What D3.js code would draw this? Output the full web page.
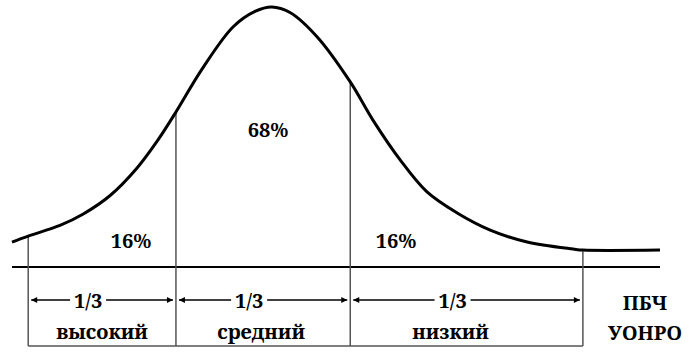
<!DOCTYPE html>
<html>
<head>
<meta charset="utf-8">
<script src="https://cdn.jsdelivr.net/npm/d3@7"></script>
<style>
  body { margin: 0; background: #fff; }
  svg { display: block; }
</style>
</head>
<body>
<svg id="chart"></svg>
<script>
const WIDTH = 695;
const HEIGHT = 352;
const FONT = "'Noto Serif', 'DejaVu Serif', serif";

// curve: x in 0..100, height in 0..100 (peak)
const curveX = [0, 2.5, 7.4, 11.0, 15.1, 19.3, 22.4, 25.2, 29.3, 34.1, 37.5, 40.1, 42.9, 47.1, 52.2, 55.7, 59.9, 64.0, 68.7, 73.8, 79.5, 86.6, 88.1, 100];
const curveY = [9.6, 11.9, 16.0, 20.4, 27.4, 38.1, 48.4, 59.2, 76.0, 92.3, 98.3, 100, 97.9, 88.5, 71.2, 56.5, 41.2, 29.0, 20.8, 14.2, 9.6, 6.9, 6.5, 6.5];

const boundaries = [2.5, 25.3, 52.2, 88.1];
const shares = ["16%", "68%", "16%"];
const thirds = ["1/3", "1/3", "1/3"];
const levels = ["высокий", "средний", "низкий"];
const sideLabels = ["ПБЧ", "УОНРО"];

const x = d3.scaleLinear().domain([0, 100]).range([12, 660]);
const y = d3.scaleLinear().domain([0, 100]).range([267, 7]);

const BOTTOM = 346;
const ARROW_Y = 300;

const svg = d3.select("#chart").attr("width", WIDTH).attr("height", HEIGHT);

svg
  .append("defs")
  .append("marker")
  .attr("id", "head")
  .attr("viewBox", "0 0 10 10")
  .attr("refX", 10)
  .attr("refY", 5)
  .attr("markerWidth", 9)
  .attr("markerHeight", 6)
  .attr("markerUnits", "userSpaceOnUse")
  .attr("orient", "auto-start-reverse")
  .append("path")
  .attr("d", "M0,0 L10,5 L0,10 z")
  .attr("fill", "#000");

const points = curveX.map((v, i) => [v, curveY[i]]);

// height of the curve at a given x (linear between read points)
const heightAt = v => {
  for (let i = 1; i < points.length; i++) {
    if (v <= points[i][0]) {
      const [x0, y0] = points[i - 1];
      const [x1, y1] = points[i];
      return y0 + ((v - x0) / (x1 - x0)) * (y1 - y0);
    }
  }
  return points[points.length - 1][1];
};

// baseline
svg
  .append("line")
  .attr("x1", x(0))
  .attr("x2", x(100))
  .attr("y1", y(0))
  .attr("y2", y(0))
  .attr("stroke", "#000")
  .attr("stroke-width", 2);

// bottom line
svg
  .append("line")
  .attr("x1", x(boundaries[0]))
  .attr("x2", x(boundaries[boundaries.length - 1]))
  .attr("y1", BOTTOM)
  .attr("y2", BOTTOM)
  .attr("stroke", "#555")
  .attr("stroke-width", 1.5);

// verticals
svg
  .selectAll(".divider")
  .data(boundaries)
  .join("line")
  .attr("class", "divider")
  .attr("x1", d => x(d))
  .attr("x2", d => x(d))
  .attr("y1", d => y(heightAt(d)))
  .attr("y2", BOTTOM)
  .attr("stroke", "#555")
  .attr("stroke-width", 1.5);

// curve
const line = d3
  .line()
  .x(d => x(d[0]))
  .y(d => y(d[1]))
  .curve(d3.curveCatmullRom.alpha(0.5));

svg
  .append("path")
  .datum(points)
  .attr("d", line)
  .attr("fill", "none")
  .attr("stroke", "#000")
  .attr("stroke-width", 3)
  .attr("stroke-linejoin", "round");

// share labels
const shareX = [131, 268, 396];
const shareY = [248, 137, 248];
svg
  .selectAll(".share")
  .data(shares)
  .join("text")
  .attr("class", "share")
  .attr("x", (d, i) => shareX[i])
  .attr("y", (d, i) => shareY[i])
  .attr("text-anchor", "middle")
  .attr("font-family", FONT)
  .attr("font-size", 20)
  .attr("font-weight", "bold")
  .text(d => d);

// segments with arrows
const segments = thirds.map((t, i) => ({
  label: t,
  level: levels[i],
  x0: x(boundaries[i]),
  x1: x(boundaries[i + 1])
}));

const TEXT_SHIFT = -14;
const LEVEL_SHIFT = [0, -2, -16];
const GAP = 18;

const seg = svg.selectAll(".segment").data(segments).join("g").attr("class", "segment");

seg
  .append("line")
  .attr("x1", d => (d.x0 + d.x1) / 2 + TEXT_SHIFT - GAP)
  .attr("x2", d => d.x0 + 3)
  .attr("y1", ARROW_Y)
  .attr("y2", ARROW_Y)
  .attr("stroke", "#000")
  .attr("stroke-width", 1.5)
  .attr("marker-end", "url(#head)");

seg
  .append("line")
  .attr("x1", d => (d.x0 + d.x1) / 2 + TEXT_SHIFT + GAP)
  .attr("x2", d => d.x1 - 3)
  .attr("y1", ARROW_Y)
  .attr("y2", ARROW_Y)
  .attr("stroke", "#000")
  .attr("stroke-width", 1.5)
  .attr("marker-end", "url(#head)");

seg
  .append("text")
  .attr("x", d => (d.x0 + d.x1) / 2 + TEXT_SHIFT)
  .attr("y", ARROW_Y + 8)
  .attr("text-anchor", "middle")
  .attr("font-family", FONT)
  .attr("font-size", 20)
  .attr("font-weight", "bold")
  .text(d => d.label);

seg
  .append("text")
  .attr("x", (d, i) => (d.x0 + d.x1) / 2 + LEVEL_SHIFT[i])
  .attr("y", 339)
  .attr("text-anchor", "middle")
  .attr("font-family", FONT)
  .attr("font-size", 20)
  .attr("font-weight", "bold")
  .text(d => d.level);

// side labels
svg
  .selectAll(".side")
  .data(sideLabels)
  .join("text")
  .attr("class", "side")
  .attr("x", 645)
  .attr("y", (d, i) => 310 + i * 30)
  .attr("text-anchor", "middle")
  .attr("font-family", FONT)
  .attr("font-size", 20)
  .attr("font-weight", "bold")
  .text(d => d);
</script>
</body>
</html>
